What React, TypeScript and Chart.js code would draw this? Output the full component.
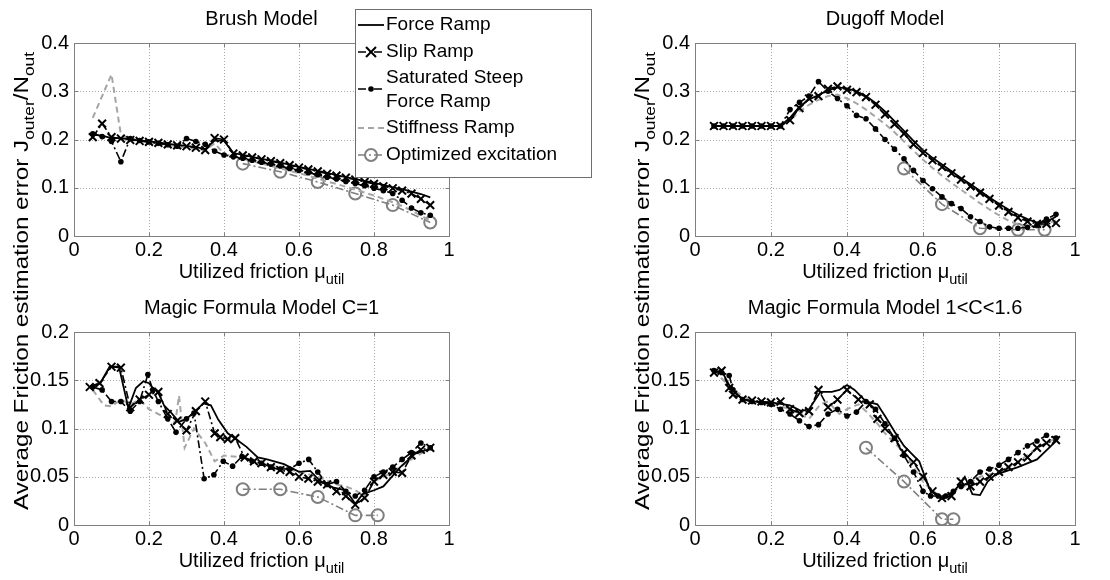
import React, { useEffect, useRef } from "react";
import { Chart, registerables } from "chart.js";

Chart.register(...registerables);

const W = 1110;
const H = 580;
const FONT = "'Liberation Sans', Arial, Helvetica, sans-serif";

// ---------- tick labels ----------
const xTicks = [0, 0.2, 0.4, 0.6, 0.8, 1];
const topYTicks = [0, 0.1, 0.2, 0.3, 0.4];
const bottomYTicks = [0, 0.05, 0.1, 0.15, 0.2];

// ---------- legend ----------
const seriesNames = ["Force Ramp", "Slip Ramp", "Saturated Steep Force Ramp", "Stiffness Ramp", "Optimized excitation"];
const legendLines = [["Force Ramp"], ["Slip Ramp"], ["Saturated Steep", "Force Ramp"], ["Stiffness Ramp"], ["Optimized excitation"]];

// ---------- Brush Model ----------
const brushX = [0.05, 0.075, 0.1, 0.125, 0.15, 0.175, 0.2, 0.225, 0.25, 0.275, 0.3, 0.325, 0.35, 0.375, 0.4, 0.425, 0.45, 0.475, 0.5, 0.525, 0.55, 0.575, 0.6, 0.625, 0.65, 0.675, 0.7, 0.725, 0.75, 0.775, 0.8, 0.825, 0.85, 0.875, 0.9, 0.925, 0.95];
const brushForce = [0.210, 0.208, 0.203, 0.203, 0.200, 0.198, 0.196, 0.194, 0.191, 0.189, 0.187, 0.184, 0.180, 0.198, 0.197, 0.172, 0.168, 0.164, 0.160, 0.156, 0.152, 0.148, 0.143, 0.139, 0.135, 0.131, 0.126, 0.122, 0.118, 0.114, 0.110, 0.106, 0.101, 0.097, 0.092, 0.087, 0.080];
const brushSlip = [0.205, 0.233, 0.205, 0.202, 0.199, 0.197, 0.195, 0.193, 0.190, 0.188, 0.186, 0.183, 0.178, 0.203, 0.200, 0.171, 0.167, 0.163, 0.159, 0.155, 0.151, 0.147, 0.142, 0.138, 0.134, 0.129, 0.125, 0.121, 0.117, 0.112, 0.108, 0.103, 0.099, 0.094, 0.088, 0.077, 0.064];
const brushSat = [0.212, 0.206, 0.196, 0.154, 0.202, 0.198, 0.195, 0.192, 0.189, 0.186, 0.202, 0.196, 0.190, 0.176, 0.168, 0.164, 0.161, 0.157, 0.153, 0.149, 0.145, 0.140, 0.136, 0.131, 0.127, 0.122, 0.118, 0.113, 0.109, 0.104, 0.099, 0.094, 0.088, 0.074, 0.058, 0.048, 0.043];
const brushStiff = [0.245, 0.290, 0.335, 0.210, 0.200, 0.197, 0.194, 0.192, 0.189, 0.186, 0.183, 0.180, 0.178, 0.192, 0.170, 0.165, 0.160, 0.155, 0.150, 0.145, 0.140, 0.135, 0.130, 0.125, 0.119, 0.113, 0.108, 0.102, 0.096, 0.090, 0.084, 0.077, 0.070, 0.062, 0.053, 0.042, 0.032];
const brushOptX = [0.45, 0.55, 0.65, 0.75, 0.85, 0.95];
const brushOptY = [0.150, 0.133, 0.112, 0.088, 0.064, 0.028];

// ---------- Dugoff Model ----------
const dugoffX = [0.05, 0.075, 0.1, 0.125, 0.15, 0.175, 0.2, 0.225, 0.25, 0.275, 0.3, 0.325, 0.35, 0.375, 0.4, 0.425, 0.45, 0.475, 0.5, 0.525, 0.55, 0.575, 0.6, 0.625, 0.65, 0.675, 0.7, 0.725, 0.75, 0.775, 0.8, 0.825, 0.85, 0.875, 0.9, 0.925, 0.95];
const dugoffForce = [0.228, 0.228, 0.228, 0.228, 0.228, 0.228, 0.228, 0.228, 0.245, 0.268, 0.283, 0.292, 0.302, 0.308, 0.306, 0.300, 0.290, 0.276, 0.258, 0.238, 0.218, 0.197, 0.178, 0.162, 0.148, 0.134, 0.120, 0.107, 0.094, 0.080, 0.067, 0.055, 0.044, 0.035, 0.028, 0.030, 0.040];
const dugoffSlip = [0.228, 0.228, 0.228, 0.228, 0.228, 0.228, 0.228, 0.228, 0.240, 0.265, 0.285, 0.290, 0.305, 0.310, 0.303, 0.298, 0.288, 0.272, 0.252, 0.232, 0.212, 0.190, 0.172, 0.157, 0.143, 0.130, 0.117, 0.103, 0.090, 0.077, 0.063, 0.050, 0.038, 0.030, 0.025, 0.025, 0.027];
const dugoffSat = [0.228, 0.228, 0.228, 0.228, 0.228, 0.228, 0.228, 0.228, 0.262, 0.277, 0.290, 0.320, 0.300, 0.285, 0.270, 0.250, 0.243, 0.222, 0.200, 0.180, 0.160, 0.136, 0.115, 0.098, 0.081, 0.067, 0.057, 0.040, 0.030, 0.019, 0.016, 0.016, 0.016, 0.018, 0.022, 0.035, 0.045];
const dugoffStiff = [0.228, 0.228, 0.228, 0.228, 0.228, 0.228, 0.228, 0.228, 0.240, 0.258, 0.272, 0.282, 0.290, 0.293, 0.285, 0.275, 0.262, 0.247, 0.232, 0.215, 0.196, 0.177, 0.158, 0.141, 0.125, 0.110, 0.096, 0.082, 0.068, 0.055, 0.043, 0.032, 0.024, 0.020, 0.020, 0.025, 0.032];
const dugoffOptX = [0.55, 0.65, 0.75, 0.85, 0.92];
const dugoffOptY = [0.140, 0.066, 0.016, 0.013, 0.013];

// ---------- Magic Formula Model C=1 ----------
const mf1ForceX = [0.04, 0.07, 0.095, 0.12, 0.145, 0.165, 0.185, 0.2, 0.21, 0.225, 0.24, 0.26, 0.28, 0.3, 0.32, 0.345, 0.365, 0.385, 0.41, 0.435, 0.46, 0.49, 0.515, 0.56, 0.6, 0.63, 0.655, 0.69, 0.725, 0.75, 0.77, 0.8, 0.825, 0.87, 0.91, 0.95];
const mf1ForceY = [0.143, 0.147, 0.164, 0.164, 0.121, 0.142, 0.149, 0.147, 0.142, 0.137, 0.124, 0.116, 0.107, 0.110, 0.117, 0.126, 0.124, 0.109, 0.095, 0.088, 0.081, 0.070, 0.068, 0.063, 0.055, 0.056, 0.046, 0.039, 0.036, 0.022, 0.032, 0.036, 0.040, 0.060, 0.074, 0.079];
const mf1SlipX = [0.042, 0.068, 0.1, 0.125, 0.15, 0.175, 0.2, 0.225, 0.25, 0.275, 0.3, 0.325, 0.35, 0.375, 0.39, 0.41, 0.43, 0.455, 0.48, 0.5, 0.525, 0.55, 0.575, 0.6, 0.625, 0.65, 0.675, 0.7, 0.725, 0.75, 0.775, 0.8, 0.825, 0.85, 0.875, 0.9, 0.925, 0.95];
const mf1SlipY = [0.143, 0.147, 0.164, 0.163, 0.122, 0.130, 0.135, 0.138, 0.115, 0.108, 0.098, 0.118, 0.128, 0.095, 0.091, 0.089, 0.090, 0.070, 0.066, 0.064, 0.060, 0.057, 0.055, 0.050, 0.048, 0.045, 0.042, 0.035, 0.030, 0.021, 0.028, 0.045, 0.052, 0.055, 0.054, 0.072, 0.078, 0.080];
const mf1SatX = [0.05, 0.075, 0.1, 0.125, 0.15, 0.175, 0.197, 0.21, 0.225, 0.25, 0.272, 0.3, 0.32, 0.347, 0.373, 0.398, 0.423, 0.448, 0.475, 0.5, 0.525, 0.55, 0.575, 0.6, 0.626, 0.65, 0.675, 0.7, 0.725, 0.75, 0.775, 0.8, 0.825, 0.85, 0.875, 0.9, 0.925, 0.95];
const mf1SatY = [0.143, 0.140, 0.128, 0.128, 0.118, 0.128, 0.156, 0.140, 0.128, 0.110, 0.096, 0.110, 0.116, 0.048, 0.052, 0.066, 0.061, 0.071, 0.066, 0.064, 0.060, 0.058, 0.058, 0.064, 0.068, 0.055, 0.042, 0.045, 0.035, 0.030, 0.036, 0.050, 0.055, 0.060, 0.068, 0.075, 0.085, 0.080];
const mf1StiffX = [0.05, 0.08, 0.1, 0.125, 0.15, 0.175, 0.2, 0.225, 0.25, 0.27, 0.28, 0.295, 0.32, 0.35, 0.375, 0.4, 0.45, 0.5, 0.55, 0.6, 0.65, 0.7, 0.725, 0.75, 0.775, 0.8, 0.85, 0.9, 0.95];
const mf1StiffY = [0.140, 0.124, 0.123, 0.130, 0.125, 0.130, 0.120, 0.115, 0.110, 0.106, 0.134, 0.080, 0.100, 0.085, 0.066, 0.072, 0.070, 0.064, 0.060, 0.055, 0.050, 0.042, 0.040, 0.036, 0.030, 0.045, 0.055, 0.068, 0.080];
const mf1OptX = [0.45, 0.55, 0.65, 0.75, 0.81];
const mf1OptY = [0.037, 0.037, 0.029, 0.010, 0.010];

// ---------- Magic Formula Model 1<C<1.6 ----------
const mf2ForceX = [0.05, 0.07, 0.09, 0.11, 0.13, 0.15, 0.2, 0.25, 0.28, 0.3, 0.33, 0.36, 0.38, 0.4, 0.42, 0.45, 0.48, 0.5, 0.525, 0.55, 0.575, 0.59, 0.605, 0.62, 0.65, 0.67, 0.69, 0.71, 0.73, 0.75, 0.77, 0.79, 0.85, 0.9, 0.95];
const mf2ForceY = [0.158, 0.160, 0.145, 0.135, 0.130, 0.128, 0.127, 0.124, 0.118, 0.120, 0.138, 0.138, 0.140, 0.145, 0.140, 0.128, 0.125, 0.113, 0.097, 0.082, 0.072, 0.066, 0.050, 0.035, 0.027, 0.030, 0.039, 0.050, 0.032, 0.031, 0.045, 0.052, 0.060, 0.068, 0.087];
const mf2SlipX = [0.05, 0.07, 0.09, 0.1, 0.125, 0.15, 0.175, 0.2, 0.225, 0.25, 0.275, 0.3, 0.325, 0.35, 0.375, 0.4, 0.43, 0.46, 0.48, 0.5, 0.525, 0.55, 0.575, 0.6, 0.625, 0.65, 0.675, 0.7, 0.725, 0.75, 0.775, 0.8, 0.825, 0.85, 0.875, 0.9, 0.925, 0.95];
const mf2SlipY = [0.158, 0.160, 0.142, 0.135, 0.130, 0.129, 0.128, 0.127, 0.128, 0.120, 0.116, 0.118, 0.140, 0.122, 0.130, 0.140, 0.130, 0.125, 0.110, 0.100, 0.090, 0.075, 0.065, 0.050, 0.035, 0.028, 0.030, 0.045, 0.040, 0.045, 0.050, 0.055, 0.060, 0.065, 0.070, 0.080, 0.085, 0.088];
const mf2SatX = [0.05, 0.07, 0.09, 0.1, 0.125, 0.15, 0.175, 0.2, 0.225, 0.25, 0.275, 0.3, 0.325, 0.35, 0.375, 0.4, 0.425, 0.45, 0.475, 0.5, 0.525, 0.55, 0.575, 0.6, 0.62, 0.64, 0.66, 0.68, 0.7, 0.725, 0.75, 0.775, 0.8, 0.825, 0.85, 0.875, 0.9, 0.925, 0.95];
const mf2SatY = [0.160, 0.158, 0.155, 0.140, 0.130, 0.128, 0.127, 0.125, 0.120, 0.115, 0.108, 0.102, 0.104, 0.115, 0.120, 0.113, 0.117, 0.128, 0.120, 0.105, 0.090, 0.072, 0.055, 0.035, 0.030, 0.030, 0.030, 0.035, 0.040, 0.045, 0.055, 0.058, 0.062, 0.068, 0.075, 0.082, 0.087, 0.093, 0.090];
const mf2StiffX = [0.05, 0.1, 0.15, 0.2, 0.25, 0.3, 0.33, 0.35, 0.38, 0.4, 0.43, 0.45, 0.48, 0.5, 0.55, 0.6, 0.625, 0.65, 0.7, 0.75, 0.8, 0.85, 0.9, 0.95];
const mf2StiffY = [0.160, 0.140, 0.128, 0.126, 0.120, 0.110, 0.125, 0.128, 0.115, 0.120, 0.125, 0.118, 0.105, 0.095, 0.075, 0.045, 0.035, 0.030, 0.038, 0.050, 0.055, 0.065, 0.080, 0.090];
const mf2OptX = [0.45, 0.55, 0.65, 0.68];
const mf2OptY = [0.080, 0.045, 0.006, 0.006];

// ---------- styling ----------
type Marker = "none" | "cross" | "dot" | "circle";
type Style = { color: string; width: number; dash: number[]; marker: Marker };
const DASHDOT = [8, 3, 2, 3];
const STYLES: Style[] = [
  { color: "#000000", width: 1.8, dash: [], marker: "none" },
  { color: "#000000", width: 1.6, dash: DASHDOT, marker: "cross" },
  { color: "#000000", width: 1.6, dash: DASHDOT, marker: "dot" },
  { color: "#a6a6a6", width: 2, dash: [6, 4], marker: "none" },
  { color: "#7f7f7f", width: 1.6, dash: DASHDOT, marker: "circle" },
];

const Y_AXIS_W = 74;
const X_AXIS_H = 50;
const TITLE_SIZE = 20;
const TITLE_GAP = 12;
const TITLE_BLOCK = TITLE_SIZE * 1.2 + TITLE_GAP;
const TICK_SIZE = 20;
const LABEL_SIZE = 20;
const SUB_SIZE = 14.5;
const LEGEND_SIZE = 19;
const YLABEL_SIZE = 21;
const YLABEL_SUB = 15;
const YLABEL_LEN = 458;
const YLABEL_CENTER = 281;
const GRID_COLOR = "#a8a8a8";
const BOX_COLOR = "#808080";

type Rect = { l: number; r: number; t: number; b: number };
type PanelDef = {
  title: string;
  rect: Rect;
  yMax: number;
  yTicks: number[];
  series: [number[], number[]][];
  yLabel: boolean;
  legend: boolean;
};

const PANELS: PanelDef[] = [
  {
    title: "Brush Model",
    rect: { l: 74, r: 449, t: 43, b: 236 },
    yMax: 0.4,
    yTicks: topYTicks,
    series: [[brushX, brushForce], [brushX, brushSlip], [brushX, brushSat], [brushX, brushStiff], [brushOptX, brushOptY]],
    yLabel: false,
    legend: true,
  },
  {
    title: "Dugoff Model",
    rect: { l: 695, r: 1075, t: 43, b: 236 },
    yMax: 0.4,
    yTicks: topYTicks,
    series: [[dugoffX, dugoffForce], [dugoffX, dugoffSlip], [dugoffX, dugoffSat], [dugoffX, dugoffStiff], [dugoffOptX, dugoffOptY]],
    yLabel: false,
    legend: false,
  },
  {
    title: "Magic Formula Model C=1",
    rect: { l: 74, r: 449, t: 332, b: 525 },
    yMax: 0.2,
    yTicks: bottomYTicks,
    series: [[mf1ForceX, mf1ForceY], [mf1SlipX, mf1SlipY], [mf1SatX, mf1SatY], [mf1StiffX, mf1StiffY], [mf1OptX, mf1OptY]],
    yLabel: true,
    legend: false,
  },
  {
    title: "Magic Formula Model 1<C<1.6",
    rect: { l: 695, r: 1075, t: 332, b: 525 },
    yMax: 0.2,
    yTicks: bottomYTicks,
    series: [[mf2ForceX, mf2ForceY], [mf2SlipX, mf2SlipY], [mf2SatX, mf2SatY], [mf2StiffX, mf2StiffY], [mf2OptX, mf2OptY]],
    yLabel: true,
    legend: false,
  },
];

const fmt = (v: number) => String(Math.round(v * 1000) / 1000);

type Run = { t: string; sub?: boolean };
const xTitleRuns: Run[] = [{ t: "Utilized friction \u03bc" }, { t: "util", sub: true }];
const yTitleRuns: Run[] = [
  { t: "Average Friction estimation error J" },
  { t: "outer", sub: true },
  { t: "/N" },
  { t: "out", sub: true },
];

function runsWidth(ctx: CanvasRenderingContext2D, runs: Run[], main: number, sub: number) {
  let w = 0;
  for (const r of runs) {
    ctx.font = `${r.sub ? sub : main}px ${FONT}`;
    w += ctx.measureText(r.t).width;
  }
  return w;
}

function drawRuns(ctx: CanvasRenderingContext2D, runs: Run[], x: number, y: number, main: number, sub: number) {
  let cx = x;
  ctx.textBaseline = "alphabetic";
  ctx.textAlign = "left";
  for (const r of runs) {
    ctx.font = `${r.sub ? sub : main}px ${FONT}`;
    ctx.fillText(r.t, cx, r.sub ? y + main * 0.3 : y);
    cx += ctx.measureText(r.t).width;
  }
}

function drawMarker(ctx: CanvasRenderingContext2D, m: Marker, x: number, y: number, color: string) {
  ctx.save();
  ctx.setLineDash([]);
  ctx.strokeStyle = color;
  ctx.fillStyle = color;
  if (m === "cross") {
    const r = 5;
    ctx.lineWidth = 2;
    ctx.beginPath();
    ctx.moveTo(x - r, y - r);
    ctx.lineTo(x + r, y + r);
    ctx.moveTo(x - r, y + r);
    ctx.lineTo(x + r, y - r);
    ctx.stroke();
  } else if (m === "dot") {
    ctx.beginPath();
    ctx.arc(x, y, 2.8, 0, Math.PI * 2);
    ctx.fill();
  } else if (m === "circle") {
    ctx.lineWidth = 2;
    ctx.beginPath();
    ctx.arc(x, y, 6, 0, Math.PI * 2);
    ctx.stroke();
  }
  ctx.restore();
}

function makeDecor(p: PanelDef) {
  return {
    id: "decor",
    beforeDatasetsDraw(chart: any) {
      const { ctx, chartArea: a, scales } = chart;
      ctx.save();
      ctx.strokeStyle = GRID_COLOR;
      ctx.lineWidth = 1;
      ctx.setLineDash([1, 2]);
      ctx.beginPath();
      for (const v of xTicks) {
        const x = Math.round(scales.x.getPixelForValue(v)) + 0.5;
        ctx.moveTo(x, a.top);
        ctx.lineTo(x, a.bottom);
      }
      for (const v of p.yTicks) {
        const y = Math.round(scales.y.getPixelForValue(v)) + 0.5;
        ctx.moveTo(a.left, y);
        ctx.lineTo(a.right, y);
      }
      ctx.stroke();
      ctx.restore();
    },
    afterDatasetsDraw(chart: any) {
      const { ctx, chartArea: a, scales } = chart;
      ctx.save();
      ctx.strokeStyle = BOX_COLOR;
      ctx.lineWidth = 1;
      ctx.setLineDash([]);
      const l = Math.round(a.left) + 0.5;
      const r = Math.round(a.right) + 0.5;
      const t = Math.round(a.top) + 0.5;
      const b = Math.round(a.bottom) + 0.5;
      ctx.strokeRect(l, t, r - l, b - t);
      ctx.beginPath();
      for (const v of xTicks) {
        const x = Math.round(scales.x.getPixelForValue(v)) + 0.5;
        ctx.moveTo(x, b);
        ctx.lineTo(x, b - 4);
        ctx.moveTo(x, t);
        ctx.lineTo(x, t + 4);
      }
      for (const v of p.yTicks) {
        const y = Math.round(scales.y.getPixelForValue(v)) + 0.5;
        ctx.moveTo(l, y);
        ctx.lineTo(l + 4, y);
        ctx.moveTo(r, y);
        ctx.lineTo(r - 4, y);
      }
      ctx.stroke();
      ctx.restore();
    },
    afterDraw(chart: any) {
      const { ctx, chartArea: a } = chart;
      ctx.save();
      ctx.fillStyle = "#000";
      // x axis title with subscript
      const xw = runsWidth(ctx, xTitleRuns, LABEL_SIZE, SUB_SIZE);
      drawRuns(ctx, xTitleRuns, (a.left + a.right) / 2 - xw / 2, a.bottom + 42, LABEL_SIZE, SUB_SIZE);
      // shared y axis title (spans both rows)
      if (p.yLabel) {
        const yw = runsWidth(ctx, yTitleRuns, YLABEL_SIZE, YLABEL_SUB);
        ctx.save();
        ctx.translate(a.left - 46, YLABEL_CENTER);
        ctx.rotate(-Math.PI / 2);
        ctx.scale(YLABEL_LEN / yw, 1);
        drawRuns(ctx, yTitleRuns, -yw / 2, 0, YLABEL_SIZE, YLABEL_SUB);
        ctx.restore();
      }
      // legend
      if (p.legend) {
        const bx = 355, by = 9, bw = 236, bh = 168;
        ctx.fillStyle = "#ffffff";
        ctx.fillRect(bx, by, bw, bh);
        ctx.strokeStyle = "#6e6e6e";
        ctx.lineWidth = 1;
        ctx.strokeRect(bx + 0.5, by + 0.5, bw, bh);
        const rows = [[25], [52], [78, 102], [128], [155]];
        const sampleY = [25, 52, 89, 128, 155];
        STYLES.forEach((s, i) => {
          const y = sampleY[i];
          ctx.save();
          ctx.strokeStyle = s.color;
          ctx.lineWidth = s.width;
          ctx.setLineDash(s.dash);
          ctx.beginPath();
          ctx.moveTo(358, y);
          ctx.lineTo(384, y);
          ctx.stroke();
          ctx.restore();
          drawMarker(ctx, s.marker, 371, y, s.color);
          ctx.fillStyle = "#000";
          ctx.font = `${LEGEND_SIZE}px ${FONT}`;
          ctx.textBaseline = "middle";
          ctx.textAlign = "left";
          legendLines[i].forEach((txt, k) => ctx.fillText(txt, 386, rows[i][k]));
        });
      }
      ctx.restore();
    },
  };
}

function buildConfig(p: PanelDef): any {
  const datasets = p.series.map(([xs, ys], i) => {
    const s = STYLES[i];
    const base: any = {
      label: seriesNames[i],
      data: xs.map((x, k) => ({ x, y: ys[k] })),
      borderColor: s.color,
      borderWidth: s.width,
      borderDash: s.dash,
      backgroundColor: s.color,
      fill: false,
      tension: 0,
      pointRadius: 0,
      pointHoverRadius: 0,
    };
    if (s.marker === "cross") {
      base.pointStyle = "crossRot";
      base.pointRadius = 5.5;
      base.pointBorderWidth = 2;
      base.pointBorderColor = s.color;
    } else if (s.marker === "dot") {
      base.pointStyle = "circle";
      base.pointRadius = 2.8;
      base.pointBorderWidth = 0;
      base.pointBackgroundColor = s.color;
    } else if (s.marker === "circle") {
      base.pointStyle = "circle";
      base.pointRadius = 6;
      base.pointBorderWidth = 2;
      base.pointBorderColor = s.color;
      base.pointBackgroundColor = "rgba(0,0,0,0)";
    }
    return base;
  });

  const tickFont = { family: FONT, size: TICK_SIZE };
  return {
    type: "line",
    data: { datasets },
    options: {
      animation: false,
      responsive: false,
      maintainAspectRatio: false,
      devicePixelRatio: 1,
      events: [],
      layout: {
        padding: {
          left: p.rect.l - Y_AXIS_W,
          right: W - p.rect.r,
          top: p.rect.t - TITLE_BLOCK,
          bottom: H - p.rect.b - X_AXIS_H,
        },
      },
      plugins: {
        legend: { display: false },
        tooltip: { enabled: false },
        title: {
          display: true,
          text: p.title,
          color: "#000",
          fullSize: false,
          font: { family: FONT, size: TITLE_SIZE, weight: "normal", lineHeight: 1.2 },
          padding: { top: 0, bottom: TITLE_GAP },
        },
      },
      scales: {
        x: {
          type: "linear",
          min: 0,
          max: 1,
          grid: { display: false, drawTicks: false },
          border: { display: false },
          afterFit: (s: any) => {
            s.height = X_AXIS_H;
          },
          afterBuildTicks: (s: any) => {
            s.ticks = xTicks.map((v) => ({ value: v }));
          },
          ticks: {
            color: "#000",
            font: tickFont,
            padding: 2,
            maxRotation: 0,
            autoSkip: false,
            callback: (v: number) => fmt(v),
          },
        },
        y: {
          type: "linear",
          min: 0,
          max: p.yMax,
          grid: { display: false, drawTicks: false },
          border: { display: false },
          afterFit: (s: any) => {
            s.width = Y_AXIS_W;
          },
          afterBuildTicks: (s: any) => {
            s.ticks = p.yTicks.map((v) => ({ value: v }));
          },
          ticks: {
            color: "#000",
            font: tickFont,
            padding: 5,
            autoSkip: false,
            callback: (v: number) => fmt(v),
          },
        },
      },
    },
    plugins: [makeDecor(p)],
  };
}

function PanelChart({ p }: { p: PanelDef }) {
  const ref = useRef<HTMLCanvasElement>(null);
  useEffect(() => {
    if (!ref.current) return;
    const chart = new Chart(ref.current, buildConfig(p));
    return () => chart.destroy();
  }, [p]);
  return (
    <canvas
      ref={ref}
      width={W}
      height={H}
      style={{ position: "absolute", left: 0, top: 0, width: W, height: H }}
    />
  );
}

export default function App() {
  return (
    <div
      style={{
        position: "fixed",
        left: 0,
        top: 0,
        width: W,
        height: H,
        background: "#ffffff",
        overflow: "hidden",
      }}
    >
      {PANELS.map((p) => (
        <PanelChart key={p.title} p={p} />
      ))}
    </div>
  );
}
